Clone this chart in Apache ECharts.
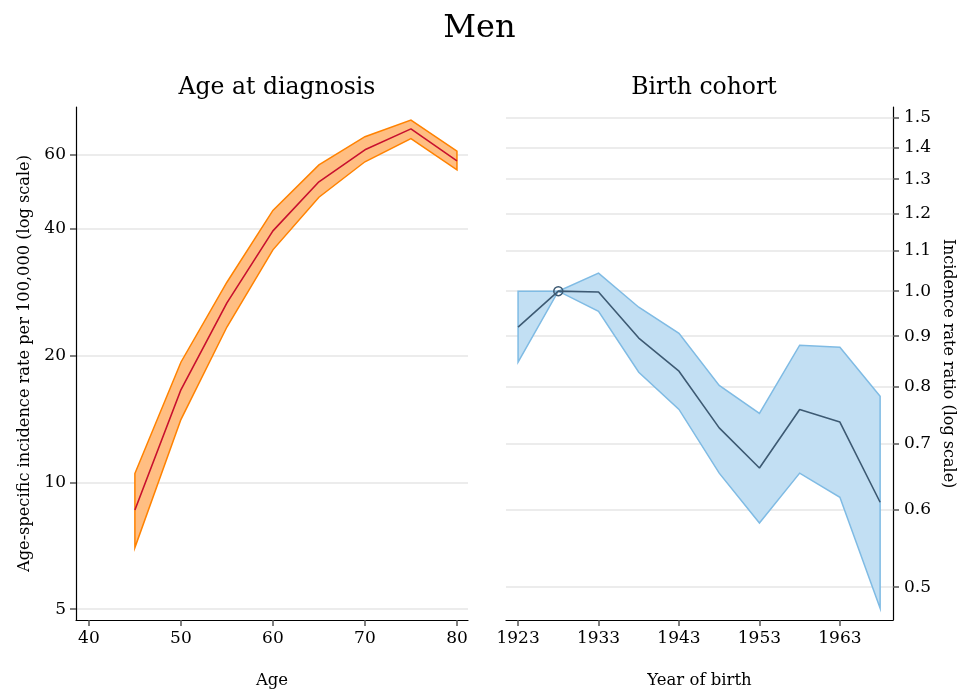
<!DOCTYPE html>
<html>
<head>
<meta charset="utf-8">
<script src="https://cdn.jsdelivr.net/npm/echarts@6.0.0/dist/echarts.min.js"></script>
<style>
  html, body { margin: 0; padding: 0; background: #fff; }
  #main { width: 959px; height: 691px; }
</style>
</head>
<body>
<div id="main"></div>
<script>
// age at diagnosis panel
var ages = [45, 50, 55, 60, 65, 70, 75, 80];
var ageRate = [8.6, 16.6, 26.7, 39.6, 51.8, 61.7, 69.2, 58.1];
var ageLo = [7.0, 14.1, 23.4, 35.7, 47.6, 57.8, 65.6, 55.3];
var ageHi = [10.5, 19.3, 29.9, 44.3, 56.8, 66.3, 72.6, 61.3];
var ageTicks = [40, 50, 60, 70, 80];
var rateTicks = [5, 10, 20, 40, 60];

// birth cohort panel
var cohorts = [1923, 1928, 1933, 1938, 1943, 1948, 1953, 1958, 1963, 1968];
var irr = [0.919, 1.0, 0.998, 0.896, 0.829, 0.726, 0.661, 0.758, 0.736, 0.610];
var irrLo = [0.847, 1.0, 0.954, 0.827, 0.758, 0.653, 0.581, 0.653, 0.617, 0.476];
var irrHi = [1.0, 1.0, 1.043, 0.963, 0.906, 0.802, 0.751, 0.881, 0.877, 0.782];
var cohortTicks = [1923, 1933, 1943, 1953, 1963];
var irrTicks = [0.5, 0.6, 0.7, 0.8, 0.9, 1.0, 1.1, 1.2, 1.3, 1.4, 1.5];

var FONT = '"DejaVu Serif", serif';

// polygon between lower and upper bound
function band(xs, lo, hi, fill, stroke) {
  return function (params, api) {
    if (params.dataIndex !== 0) return;
    var pts = [];
    for (var i = 0; i < xs.length; i++) pts.push(api.coord([xs[i], hi[i]]));
    for (var j = xs.length - 1; j >= 0; j--) pts.push(api.coord([xs[j], lo[j]]));
    return {
      type: 'polygon',
      shape: {points: pts},
      style: {fill: fill, stroke: stroke, lineWidth: 1.5, lineJoin: 'miter'}
    };
  };
}

function pairs(xs, ys) {
  return xs.map(function (x, i) { return [x, ys[i]]; });
}

var tickLine = {color: '#555', width: 1.5};

var myChart = echarts.init(document.getElementById('main'));
var option = {
  backgroundColor: '#fff',
  animation: false,
  textStyle: {fontFamily: FONT},
  title: [
    {text: 'Men', left: 'center', top: 8, textStyle: {fontFamily: FONT, fontSize: 32, fontWeight: 'normal', color: '#000'}},
    {text: 'Age at diagnosis', left: 272, top: 71, textAlign: 'center', textStyle: {fontFamily: FONT, fontSize: 23.5, fontWeight: 'normal', color: '#000'}},
    {text: 'Birth cohort', left: 699, top: 71, textAlign: 'center', textStyle: {fontFamily: FONT, fontSize: 23.5, fontWeight: 'normal', color: '#000'}}
  ],
  grid: [
    {left: 76, top: 107, width: 392, height: 513, outerBoundsMode: 'none', containLabel: false},
    {left: 506, top: 107, width: 387, height: 513, outerBoundsMode: 'none', containLabel: false}
  ],
  xAxis: [
    {
      gridIndex: 0, type: 'value', min: 38.6, max: 81.2,
      name: 'Age', nameLocation: 'middle', nameGap: 52,
      nameTextStyle: {fontFamily: FONT, fontSize: 16.5, color: '#000'},
      axisLine: {show: true, lineStyle: {color: '#000', width: 1.2}},
      axisTick: {show: true, length: 6, lineStyle: tickLine, customValues: ageTicks},
      axisLabel: {customValues: ageTicks, margin: 10, fontFamily: FONT, fontSize: 17, color: '#000'},
      splitLine: {show: false}
    },
    {
      gridIndex: 1, type: 'value', min: 1921.5, max: 1969.6,
      name: 'Year of birth', nameLocation: 'middle', nameGap: 52,
      nameTextStyle: {fontFamily: FONT, fontSize: 16.5, color: '#000'},
      axisLine: {show: true, lineStyle: {color: '#000', width: 1.2}},
      axisTick: {show: true, length: 6, lineStyle: tickLine, customValues: cohortTicks},
      axisLabel: {
        customValues: cohortTicks, margin: 10, fontFamily: FONT, fontSize: 17, color: '#000',
        formatter: function (v) { return String(v); }
      },
      splitLine: {show: false}
    }
  ],
  yAxis: [
    {
      gridIndex: 0, type: 'log', min: 4.71, max: 78,
      name: 'Age-specific incidence rate per 100,000 (log scale)',
      nameLocation: 'middle', nameGap: 43,
      nameTextStyle: {fontFamily: FONT, fontSize: 16.2, color: '#000'},
      axisLine: {show: true, lineStyle: {color: '#000', width: 1.2}},
      axisTick: {show: true, length: 6, lineStyle: tickLine, customValues: rateTicks},
      axisLabel: {customValues: rateTicks, margin: 10, fontFamily: FONT, fontSize: 17, color: '#000'},
      splitLine: {show: true, lineStyle: {color: '#e6e6e6', width: 1.5}}
    },
    {
      gridIndex: 1, type: 'log', min: 0.463, max: 1.539, position: 'right',
      name: 'Incidence rate ratio (log scale)',
      nameLocation: 'middle', nameGap: 47, nameRotate: -90,
      nameTextStyle: {fontFamily: FONT, fontSize: 16, color: '#000'},
      axisLine: {show: true, lineStyle: {color: '#000', width: 1.2}},
      axisTick: {show: true, length: 6, lineStyle: tickLine, customValues: irrTicks},
      axisLabel: {
        customValues: irrTicks, margin: 11, fontFamily: FONT, fontSize: 17, color: '#000',
        formatter: function (v) { return Number(v).toFixed(1); }
      },
      splitLine: {show: true, lineStyle: {color: '#e6e6e6', width: 1.5}}
    }
  ],
  series: [
    {
      type: 'custom', xAxisIndex: 0, yAxisIndex: 0, z: 1,
      data: ages.map(function (a, i) { return [a, ageLo[i], ageHi[i]]; }),
      encode: {x: 0, y: [1, 2]},
      renderItem: band(ages, ageLo, ageHi, '#ffbe82', '#ff8200')
    },
    {
      type: 'line', xAxisIndex: 0, yAxisIndex: 0, z: 3,
      data: pairs(ages, ageRate),
      symbol: 'none',
      lineStyle: {color: '#c8102e', width: 1.6}
    },
    {
      type: 'custom', xAxisIndex: 1, yAxisIndex: 1, z: 1,
      data: cohorts.map(function (c, i) { return [c, irrLo[i], irrHi[i]]; }),
      encode: {x: 0, y: [1, 2]},
      renderItem: band(cohorts, irrLo, irrHi, '#c2dff3', '#7fbbe4')
    },
    {
      type: 'line', xAxisIndex: 1, yAxisIndex: 1, z: 3,
      data: pairs(cohorts, irr).map(function (p, i) {
        // reference cohort gets the hollow circle
        return i === 1 ? {value: p, symbol: 'circle', symbolSize: 9} : {value: p, symbol: 'none'};
      }),
      showSymbol: true,
      itemStyle: {color: 'rgba(255,255,255,0)', borderColor: '#3d5a73', borderWidth: 1.5},
      lineStyle: {color: '#3d5a73', width: 1.6}
    }
  ]
};
myChart.setOption(option, true);
</script>
</body>
</html>
